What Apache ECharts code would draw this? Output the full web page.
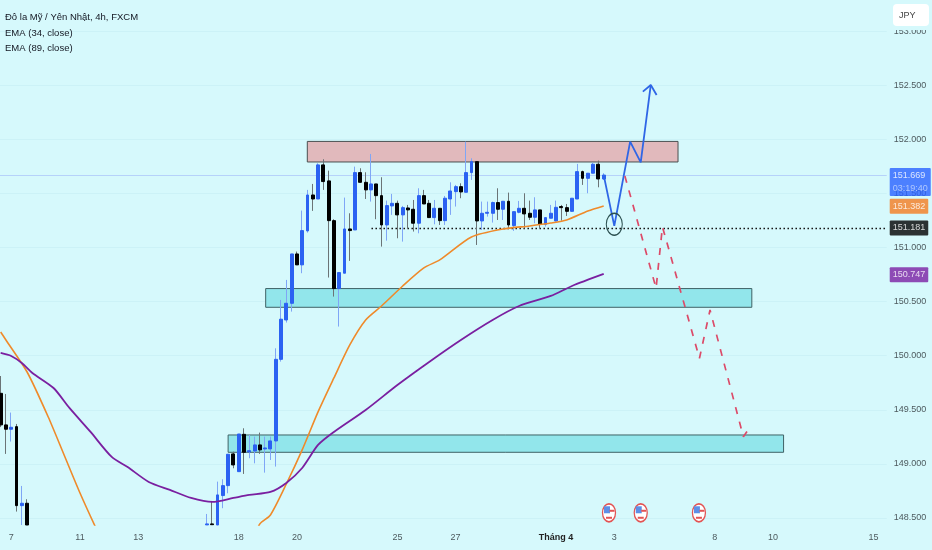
<!DOCTYPE html>
<html><head><meta charset="utf-8">
<style>html,body{margin:0;padding:0;background:#d6f9fc}#c{width:932px;height:550px}</style>
<script src="https://cdn.jsdelivr.net/npm/echarts@6/dist/echarts.min.js"></script>
</head><body><div id="c"></div>
<script>
const titleLines = ['Đô la Mỹ / Yên Nhật, 4h, FXCM','EMA (34, close)','EMA (89, close)'];
const barCount = 168;
const dayTicks = {2:'7',15:'11',26:'13',45:'18',56:'20',75:'25',86:'27',105:'Tháng 4',116:'3',135:'8',146:'10',165:'15'};
const priceTicks = [148.5,149,149.5,150,150.5,151,151.5,152,152.5,153];
// [open, close, low, high]
const leftCandles = [
[149.652,149.360,149.340,149.812],[149.360,149.320,149.092,149.646],[149.320,149.338,149.206,149.474],
[149.344,148.614,148.559,149.369],[148.614,148.636,148.435,148.796],[148.636,148.435,148.435,148.673]];
const mainStart = 39;
const mainCandles = [
[148.436,148.445,148.435,148.537],[148.445,148.438,148.435,148.657],[148.435,148.713,148.435,148.836],
[148.707,148.799,148.590,148.858],[148.799,149.089,148.728,149.089],[149.092,148.990,148.959,149.113],
[148.928,149.276,148.928,149.276],[149.273,149.107,148.907,149.329],[149.110,149.122,149.052,149.267],
[149.119,149.175,149.005,149.252],[149.175,149.129,149.092,149.289],[149.138,149.147,148.919,149.252],
[149.138,149.212,149.036,149.252],[149.212,149.966,148.975,150.068],[149.966,150.337,149.945,150.515],
[150.330,150.484,150.306,150.700],[150.484,150.940,150.407,150.940],[150.940,150.839,150.839,150.962],
[150.839,151.156,150.762,151.341],[151.153,151.485,151.137,151.532],[151.485,151.448,151.338,151.587],
[151.448,151.763,151.448,151.778],[151.763,151.609,151.532,151.815],[151.615,151.248,150.722,151.710],
[151.248,150.620,150.546,151.261],[150.620,150.768,150.269,150.768],[150.762,151.171,150.762,151.461],
[151.171,151.156,150.876,151.316],[151.162,151.692,151.162,151.747],[151.692,151.602,151.602,151.732],
[151.602,151.532,151.448,151.695],[151.532,151.587,151.424,151.864],[151.587,151.479,151.261,151.587],
[151.479,151.208,151.008,151.649],[151.208,151.387,151.063,151.433],[151.384,151.408,151.301,151.495],
[151.408,151.301,151.085,151.433],[151.301,151.368,151.054,151.384],[151.365,151.347,151.177,151.393],
[151.353,151.224,151.147,151.439],[151.224,151.479,151.131,151.547],[151.479,151.402,151.402,151.532],
[151.408,151.276,151.276,151.439],[151.276,151.362,151.214,151.439],[151.362,151.248,151.208,151.362],
[151.248,151.455,151.208,151.476],[151.448,151.522,151.301,151.602],[151.516,151.562,151.378,151.578],
[151.562,151.513,151.455,151.593],[151.510,151.692,151.510,151.978],[151.692,151.793,151.624,151.824],
[151.793,151.245,151.023,151.793],[151.245,151.316,151.162,151.424],[151.316,151.325,151.285,151.424],
[151.316,151.415,151.230,151.424],[151.415,151.353,151.254,151.547],[151.353,151.427,151.254,151.427],
[151.427,151.208,151.177,151.507],[151.202,151.331,151.153,151.331],[151.325,151.362,151.316,151.430],
[151.362,151.310,151.177,151.501],[151.316,151.279,151.254,151.433],[151.279,151.347,151.224,151.464],
[151.347,151.214,151.177,151.347],[151.214,151.276,151.193,151.276],[151.270,151.316,151.270,151.393],
[151.245,151.371,151.239,151.433],[151.378,151.368,151.248,151.393],[151.368,151.334,151.291,151.402],
[151.334,151.455,151.331,151.455],[151.448,151.701,151.448,151.772],[151.701,151.639,151.578,151.710],
[151.639,151.686,151.501,151.686],[151.686,151.769,151.686,151.784],[151.769,151.633,151.556,151.803],
[151.633,151.669,151.624,151.686]];
const ema34Bars = [0,1,5,9,12,15,18,21,33,45,49,51,54,57,60,63,66,69,72,76,80,83,89,95,100,104,107,111,114];
const ema34Values = [150.219,150.145,149.849,149.433,149.082,148.731,148.408,148.10,147.60,148.05,148.445,148.528,148.814,149.129,149.480,149.794,150.099,150.330,150.459,150.644,150.811,150.885,151.097,151.171,151.199,151.226,151.254,151.337,151.384];
const ema89Bars = [0,2,4,6,10,13,17,21,24,28,32,36,40,44,47,51,54,57,60,63,69,75,81,87,93,98,104,108,114];
const ema89Values = [150.025,149.997,149.932,149.840,149.701,149.517,149.295,149.064,148.971,148.833,148.759,148.685,148.648,148.685,148.713,148.741,148.824,148.962,149.175,149.295,149.498,149.729,149.942,150.145,150.330,150.459,150.552,150.644,150.755];
const bluePathBars = [114,116,119,121,122.9];
const bluePathValues = [151.669,151.199,151.978,151.787,152.502];
const arrowBars = [121.4,122.9,124.0];
const arrowValues = [152.44,152.502,152.409];
const redPathBars = [118.0,123.9,125.1,132.1,134.1,140.4,141.7];
const redPathValues = [151.661,150.623,151.192,149.976,150.422,149.251,149.344];
const resistanceZone = [57.97,128.05,151.98,151.79];
const supportZoneA = [50.1,142.0,150.62,150.447];
const supportZoneB = [43.0,148.0,149.267,149.107];
const currentPrice = 151.669, countdown = '03:19:40', retestLevel = 151.181, retestStartBar = 70.1;
const ema34Last = 151.382, ema89Last = 150.747;
const circleBar = 116, circlePrice = 151.214;
const eventBars = [115,121,132], eventPrice = 148.548;

const FONT='Liberation Sans';
const categories = Array.from({length:barCount},(_,i)=>String(i));
const candles = categories.map(()=>'-');
leftCandles.forEach((c,i)=>candles[i]=c);
mainCandles.forEach((c,i)=>candles[mainStart+i]=c);
const bodies = candles.map(c=>c==='-'?'-':[c[0],c[1],Math.min(c[0],c[1]),Math.max(c[0],c[1])]);
const zip=(a,b)=>a.map((x,i)=>[x,b[i]]);
const zone=z=>[{coord:[z[0],z[2]]},{coord:[z[1],z[3]]}];
const BG='#d6f9fc', BLUE='#2b62f2', GRID='#ccf2f7';
const tag=(name,price,color,text,offset,rich)=>({
  type:'scatter',name,xAxisIndex:1,data:[[167.5,price]],symbolSize:0,clip:false,silent:true,z:20,
  label:{show:true,position:'right',distance:3,offset:offset||[0,0],formatter:text,backgroundColor:color,color:'#fff',
    fontFamily:FONT,fontSize:9,lineHeight:13,padding:[1,3,1,3],borderRadius:1,rich:rich||{}},
});
const flagPts=eventBars.map(b=>[b,eventPrice]);
const flagLayer=(size,offset,color,border,z)=>({type:'scatter',xAxisIndex:1,data:flagPts,symbol:size[2]||'circle',symbolSize:[size[0],size[1]],symbolOffset:offset,silent:true,clip:false,z,
  itemStyle:{color,borderColor:border||color,borderWidth:border?1.5:0,opacity:1}});

const option={
  animation:false,backgroundColor:BG,
  title:{text:titleLines.join('\n'),left:5,top:10,padding:0,textStyle:{fontFamily:FONT,fontSize:9.5,fontWeight:'normal',color:'#131722',lineHeight:15.3}},
  grid:{left:-2,width:888.72,top:0,height:525,containLabel:false,outerBoundsMode:'none'},
  xAxis:[
    {type:'category',data:categories,boundaryGap:true,axisLine:{show:false},axisTick:{show:false},splitLine:{show:false},
     axisLabel:{interval:0,margin:8,fontFamily:FONT,fontSize:9,color:'#4d5a5e',hideOverlap:false,
       formatter:v=>dayTicks[v]?(dayTicks[v]==='Tháng 4'?'{b|'+dayTicks[v]+'}':dayTicks[v]):'',
       rich:{b:{fontWeight:'bold',color:'#222',fontFamily:FONT,fontSize:9}}}},
    {type:'value',min:-0.5,max:167.5,show:false}
  ],
  yAxis:{type:'value',position:'right',min:148.435,max:153.287,scale:true,axisLine:{show:false},
    axisTick:{show:false,customValues:priceTicks},
    splitLine:{show:true,lineStyle:{color:GRID,width:1}},
    axisLabel:{customValues:priceTicks,margin:7,fontFamily:FONT,fontSize:9,color:'#4d5a5e',
      formatter:v=>v.toFixed(3)}},
  series:[
    {type:'candlestick',name:'wicks',data:candles,barWidth:1,clip:true,silent:true,z:3,
      itemStyle:{color:'#7fa6f6',color0:'#6b7476',borderColor:'#7fa6f6',borderColor0:'#6b7476',borderColorDoji:'#6b7476',borderWidth:1}},
    {type:'candlestick',name:'bodies',data:bodies,barWidth:3.4,clip:true,silent:true,z:4,
      itemStyle:{color:BLUE,color0:'#000',borderColor:BLUE,borderColor0:'#000',borderColorDoji:'#000',borderWidth:1}},
    {type:'line',name:'EMA 34',xAxisIndex:1,data:zip(ema34Bars,ema34Values),showSymbol:false,symbol:'none',clip:true,smooth:0.25,silent:true,z:5,
      lineStyle:{color:'#ef8a2a',width:1.6},
      markArea:{silent:true,z:1,data:[
        [{...zone(resistanceZone)[0],itemStyle:{color:'#e1b9bc',borderColor:'#4a4f50',borderWidth:1}},zone(resistanceZone)[1]],
        [{...zone(supportZoneA)[0],itemStyle:{color:'#92e6eb',borderColor:'#3f6265',borderWidth:1}},zone(supportZoneA)[1]],
        [{...zone(supportZoneB)[0],itemStyle:{color:'#92e6eb',borderColor:'#3f6265',borderWidth:1}},zone(supportZoneB)[1]]
      ]},
      markLine:{silent:true,symbol:'none',z:2,label:{show:false},data:[
        [{coord:[-0.5,currentPrice],lineStyle:{color:'#b6d2fa',width:1.2,type:'solid'}},{coord:[167.5,currentPrice]}],
        [{coord:[retestStartBar,retestLevel],lineStyle:{color:'#111',width:1.4,type:[1.5,2.5]}},{coord:[167.5,retestLevel]}]
      ]}},
    {type:'line',name:'EMA 89',xAxisIndex:1,data:zip(ema89Bars,ema89Values),showSymbol:false,symbol:'none',clip:true,smooth:0.25,silent:true,z:5,
      lineStyle:{color:'#7a1fa0',width:1.8}},
    {type:'line',name:'path up',xAxisIndex:1,data:zip(bluePathBars,bluePathValues),showSymbol:false,symbol:'none',silent:true,z:6,lineStyle:{color:'#2f66e6',width:1.8}},
    {type:'line',name:'arrow',xAxisIndex:1,data:zip(arrowBars,arrowValues),showSymbol:false,symbol:'none',silent:true,z:6,lineStyle:{color:'#2f66e6',width:1.8}},
    {type:'line',name:'path down',xAxisIndex:1,data:zip(redPathBars,redPathValues),showSymbol:false,symbol:'none',silent:true,z:6,lineStyle:{color:'#dc4a68',width:1.7,type:[7,8]}},
    {type:'scatter',name:'retest',xAxisIndex:1,data:[[circleBar,circlePrice]],symbol:'circle',symbolSize:[16,22],silent:true,z:7,
      itemStyle:{color:'rgba(0,0,0,0)',borderColor:'#2c5050',borderWidth:1.2,opacity:1}},
    flagLayer([13,18],[0,0],'#ffffff','#e35454',8),
    flagLayer([6,7,'rect'],[-2,-3],'#5d8fe6',null,9),
    flagLayer([5,2,'rect'],[3,-2],'#e35454',null,9),
    flagLayer([6,2,'rect'],[0,5],'#e35454',null,9),
    tag('last',currentPrice,'#2962ff','{a|151.669}\n{b|'+countdown+'}',[0,7],
      {a:{color:'#fff',fontFamily:FONT,fontSize:9,lineHeight:13},b:{color:'#c9d9ff',fontFamily:FONT,fontSize:9,lineHeight:13}}),
    tag('e34',ema34Last,'#f57c1f','151.382'),
    tag('level',retestLevel,'#000000','151.181'),
    tag('e89',ema89Last,'#7b1fa2','150.747')
  ],
  graphic:[
    {type:'rect',z:99,shape:{x:888,y:0,width:44,height:30},style:{fill:BG},silent:true},
    {type:'rect',z:100,shape:{x:893,y:4,width:36,height:22,r:4},style:{fill:'#ffffff'},silent:true},
    {type:'text',z:101,x:899,y:11,style:{text:'JPY',fill:'#444',font:'9px "Liberation Sans"'},silent:true}
  ]
};
echarts.init(document.getElementById('c'),null,{renderer:'canvas'}).setOption(option);
</script></body></html>
